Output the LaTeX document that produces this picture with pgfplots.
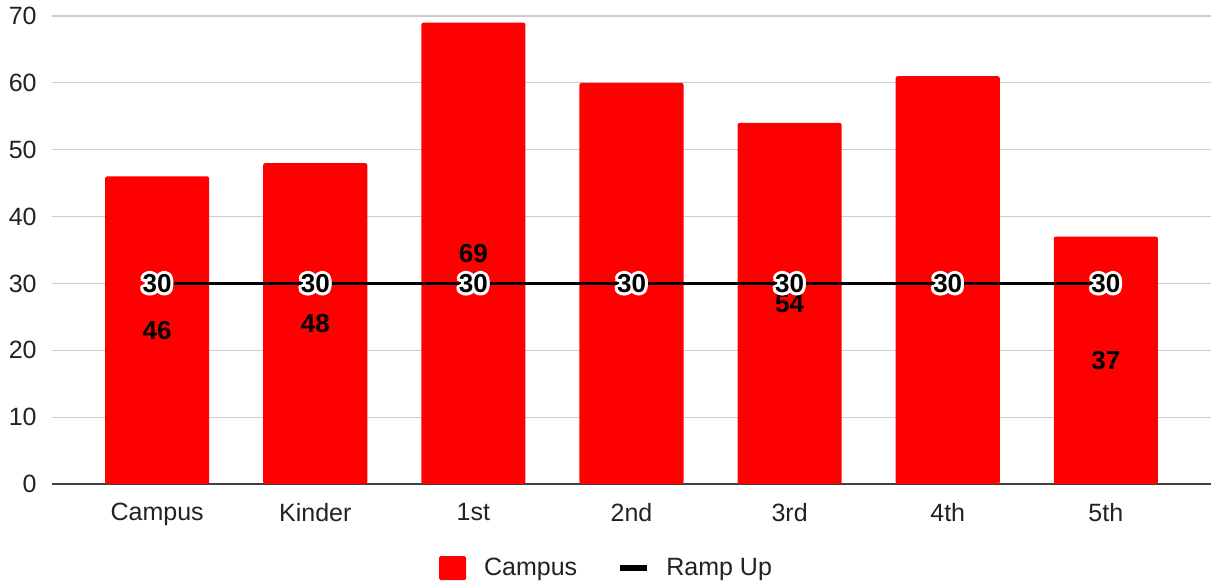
\documentclass[border=0pt]{standalone}
\usepackage{fontspec}
\setmainfont{Liberation Sans}
\usepackage{pgfplots}
\pgfplotsset{compat=1.18}
\usepackage{pgfplotstable}
\usepackage{contour}
\contourlength{1.5pt}
\contournumber{16}

\definecolor{barred}{RGB}{255,0,0}
\definecolor{gridgray}{RGB}{204,204,204}
\definecolor{textgray}{RGB}{34,34,34}

% Campus enrolment by grade
\pgfplotstableread{
x v
0 46
1 48
2 69
3 60
4 54
5 61
6 37
}\campus

% Ramp-up target
\pgfplotstableread{
x v
0 30
1 30
2 30
3 30
4 30
5 30
6 30
}\ramp

\newcommand{\chartfont}{\fontsize{12.5}{15}\selectfont}

\begin{document}
\begin{tikzpicture}
\begin{axis}[
  scale only axis,
  width=579.5pt, height=234pt,
  xmin=-0.665, xmax=6.665,
  ymin=0, ymax=70,
  ytick={0,10,...,70},
  xtick={0,...,6},
  xticklabels={Campus,Kinder,1st,2nd,3rd,4th,5th},
  axis x line=bottom, axis y line=left,
  y axis line style={draw=none},
  x axis line style={draw=black!75, line width=0.9pt, -},
  major tick length=0pt,
  ymajorgrids,
  grid style={gridgray, line width=0.6pt},
  /pgf/number format/assume math mode=true,
  tick label style={font=\chartfont, text=textgray, inner sep=0pt},
  y tick label style={anchor=east, xshift=-7.5pt},
  x tick label style={anchor=north, yshift=-9.5pt},
  legend style={at={(0.4776,-0.1795)}, anchor=center, draw=none,
    font=\chartfont, text=textgray, legend columns=2,
    nodes={inner sep=0pt},
    /tikz/every even column/.append style={column sep=20pt}},
]
\addplot[ybar, bar width=0.658, fill=barred, draw=none, rounded corners=1pt,
  legend image code/.code={\fill[barred, rounded corners=0.8pt] (-2pt,-6pt) rectangle (11.5pt,6pt); \path (20.5pt,0pt);}]
  table[x=x, y=v]{\campus};
\addlegendentry{Campus}

% value labels at the middle of each bar (hidden where they sit under the target labels)
\addplot[draw=none, mark=none, forget plot,
  point meta=explicit,
  nodes near coords,
  every node near coord/.append style={anchor=center, font=\fontsize{13}{15}\selectfont\bfseries, text=black},
  skip coords between index={3}{4},
  skip coords between index={5}{6}]
  table[x=x, y expr=\thisrow{v}/2, meta=v]{\campus};

\addplot[black, line width=1.6pt, mark=none,
  point meta=y,
  nodes near coords={\contour{white}{\pgfmathprintnumber{\pgfplotspointmeta}}},
  every node near coord/.append style={anchor=center, yshift=-1pt, font=\fontsize{13}{15}\selectfont\bfseries, text=black},
  legend image code/.code={\draw[black, line width=2.6pt] (0pt,0pt) -- (13.5pt,0pt); \path (22.5pt,0pt);}]
  table[x=x, y=v]{\ramp};
\addlegendentry{Ramp Up}
\end{axis}
\pgfresetboundingbox
\path (-26pt,-50pt) rectangle (579.5pt,242pt);
\end{tikzpicture}
\end{document}
